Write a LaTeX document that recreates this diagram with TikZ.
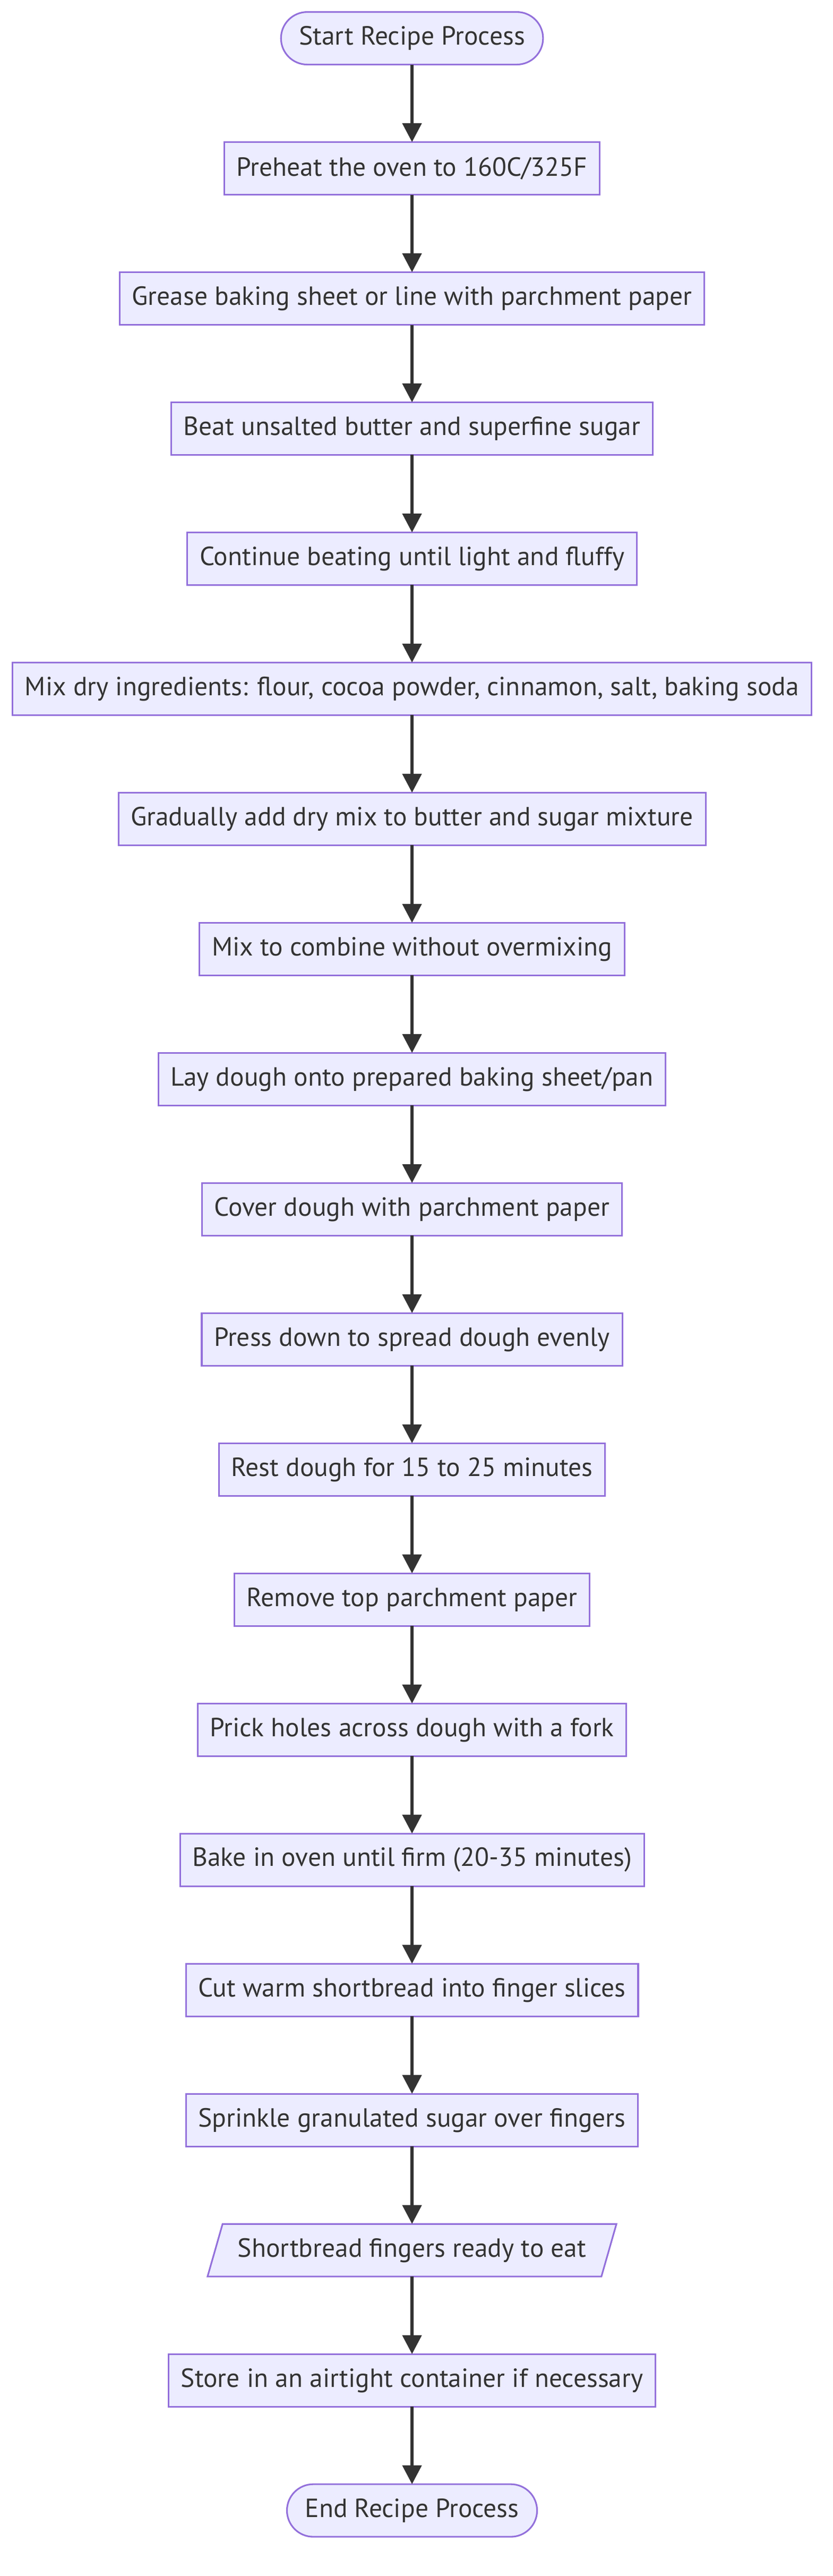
\documentclass[tikz,border=0pt]{standalone}
\usepackage{fontspec}
\setmainfont{PT Sans}
\usetikzlibrary{shapes, arrows.meta, positioning, calc}

\definecolor{boxfill}{HTML}{ECECFF}
\definecolor{boxline}{HTML}{9370DB}
\definecolor{ink}{HTML}{333333}

\begin{document}
\begin{tikzpicture}
  [
  % block
  block/.style = {rectangle,
    draw = boxline, fill = boxfill, line width = 1pt,
    text = ink, font = \fontsize{16pt}{19pt}\selectfont,
    node distance = 47.2pt, outer sep = 0pt,
    inner xsep = 7.5pt, inner ysep = 2pt,
    minimum height = 32pt},
  % stadium
  stadium/.style = {block, rounded corners = 16pt, inner xsep = 11pt},
  % io
  io/.style = {block, trapezium,
    trapezium left angle = 64, trapezium right angle = 116,
    trapezium stretches body, minimum width = 249pt},
  % line
  line/.style = {draw = ink, line width = 2pt,
    -{Triangle[length = 11.5pt, width = 11.5pt]}},
  ]
  \useasboundingbox (0,0) rectangle (507pt,-1568pt);

  % nodes
  \node [stadium] (start) at (250.9pt,-23.3pt) {Start Recipe Process};
  \node [block, below= of start] (preheat) {Preheat the oven to 160C/325F};
  \node [block, below= of preheat] (grease) {Grease baking sheet or line with parchment paper};
  \node [block, below= of grease] (beat) {Beat unsalted butter and superfine sugar};
  \node [block, below= of beat] (fluffy) {Continue beating until light and fluffy};
  \node [block, below= of fluffy] (drymix) {Mix dry ingredients: flour, cocoa powder, cinnamon, salt, baking soda};
  \node [block, below= of drymix] (addmix) {Gradually add dry mix to butter and sugar mixture};
  \node [block, below= of addmix] (combine) {Mix to combine without overmixing};
  \node [block, below= of combine] (lay) {Lay dough onto prepared baking sheet/pan};
  \node [block, below= of lay] (cover) {Cover dough with parchment paper};
  \node [block, below= of cover] (press) {Press down to spread dough evenly};
  \node [block, below= of press] (rest) {Rest dough for 15 to 25 minutes};
  \node [block, below= of rest] (remove) {Remove top parchment paper};
  \node [block, below= of remove] (prick) {Prick holes across dough with a fork};
  \node [block, below= of prick] (bake) {Bake in oven until firm (20-35 minutes)};
  \node [block, below= of bake] (cut) {Cut warm shortbread into finger slices};
  \node [block, below= of cut] (sprinkle) {Sprinkle granulated sugar over fingers};
  \node [io, below= of sprinkle] (ready) {Shortbread fingers ready to eat};
  \node [block, below= of ready] (store) {Store in an airtight container if necessary};
  \node [stadium, below= of store] (finish) {End Recipe Process};

  % path
  \path [line] (start) -- (preheat);
  \path [line] (preheat) -- (grease);
  \path [line] (grease) -- (beat);
  \path [line] (beat) -- (fluffy);
  \path [line] (fluffy) -- (drymix);
  \path [line] (drymix) -- (addmix);
  \path [line] (addmix) -- (combine);
  \path [line] (combine) -- (lay);
  \path [line] (lay) -- (cover);
  \path [line] (cover) -- (press);
  \path [line] (press) -- (rest);
  \path [line] (rest) -- (remove);
  \path [line] (remove) -- (prick);
  \path [line] (prick) -- (bake);
  \path [line] (bake) -- (cut);
  \path [line] (cut) -- (sprinkle);
  \path [line] (sprinkle) -- (ready);
  \path [line] (ready) -- (store);
  \path [line] (store) -- (finish);

\end{tikzpicture}
\end{document}
